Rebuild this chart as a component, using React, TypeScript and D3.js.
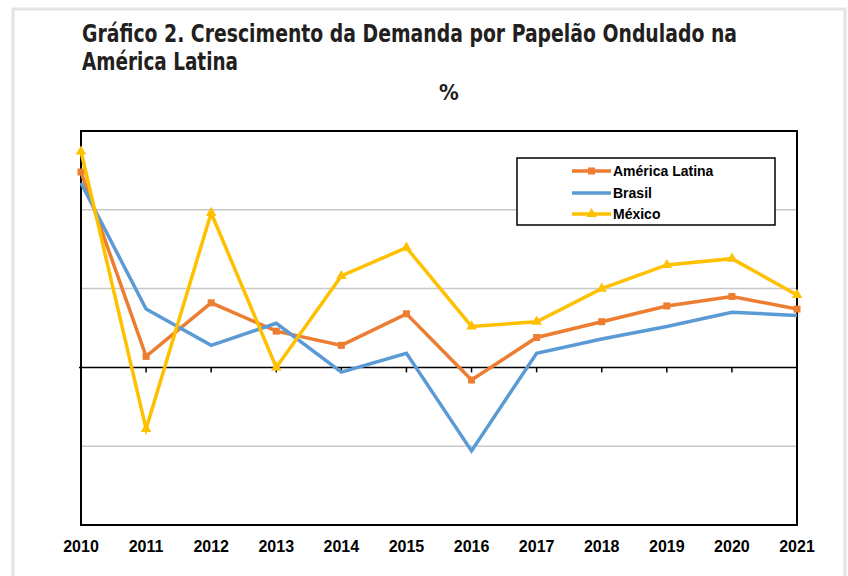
import React from 'react';
import * as d3 from 'd3';

const years = [2010, 2011, 2012, 2013, 2014, 2015, 2016, 2017, 2018, 2019, 2020, 2021];
const americaLatina = [12.4, 0.7, 4.1, 2.3, 1.4, 3.4, -0.8, 1.9, 2.9, 3.9, 4.5, 3.7];
const brasil = [11.7, 3.7, 1.4, 2.8, -0.3, 0.9, -5.3, 0.9, 1.8, 2.6, 3.5, 3.3];
const mexico = [13.7, -3.9, 9.8, 0.0, 5.8, 7.6, 2.6, 2.9, 5.0, 6.5, 6.9, 4.6];
const gridValues = [10, 5, -5];

const series = [
  { name: 'América Latina', values: americaLatina, color: '#ED7D31', marker: 'square' },
  { name: 'Brasil', values: brasil, color: '#5B9BD5', marker: 'none' },
  { name: 'México', values: mexico, color: '#FFC000', marker: 'triangle' },
];

const W = 848;
const H = 576;
const box = { left: 81, right: 797, top: 131, bottom: 525 };
const titleFont = "'DejaVu Sans Condensed', 'DejaVu Sans', sans-serif";

export default function App() {
  const x = d3.scaleLinear().domain([2010, 2021]).range([box.left, box.right]);
  const y = d3.scaleLinear().domain([-10, 15]).range([box.bottom, box.top]);

  const line = (vals: number[]) =>
    d3.line<number>()
      .x((_, i) => x(years[i]))
      .y(d => y(d))(vals) as string;

  const tri = d3.symbol().type(d3.symbolTriangle).size(48)() as string;

  const marker = (kind: string, color: string, cx: number, cy: number, key: string) => {
    if (kind === 'square')
      return <rect key={key} x={cx - 3.5} y={cy - 3.5} width={7} height={7} fill={color} />;
    if (kind === 'triangle')
      return <path key={key} d={tri} transform={`translate(${cx},${cy})`} fill={color} />;
    return null;
  };

  const legendRows = [171, 193, 214];

  return (
    <svg width={W} height={H} style={{ position: 'absolute', left: 0, top: 0, background: '#fff' }}
      fontFamily="'Liberation Sans', Arial, sans-serif">
      {/* outer frame */}
      <path d={`M13,${H} V9 H845 V${H}`} fill="none" stroke="#e4e4e4" strokeWidth={3} />

      <text x={82} y={42} fontFamily={titleFont} fontSize={24} fill="#231f20" fontWeight={700}
        textLength={655} lengthAdjust="spacingAndGlyphs">
        Gráfico 2. Crescimento da Demanda por Papelão Ondulado na
      </text>
      <text x={82} y={70} fontFamily={titleFont} fontSize={24} fill="#231f20" fontWeight={700}
        textLength={156} lengthAdjust="spacingAndGlyphs">América Latina</text>
      <text x={449} y={100} textAnchor="middle" fontFamily={titleFont}
        fontSize={22} fill="#231f20" fontWeight={700}>%</text>

      {/* gridlines */}
      {gridValues.map(v => (
        <line key={v} x1={box.left} x2={box.right} y1={y(v)} y2={y(v)} stroke="#c8c8c8" strokeWidth={1.5} />
      ))}

      {/* zero axis with ticks */}
      <line x1={box.left - 2} x2={box.right} y1={y(0)} y2={y(0)} stroke="#000" strokeWidth={1.5} />
      {years.map(yr => (
        <line key={yr} x1={x(yr)} x2={x(yr)} y1={y(0)} y2={y(0) + 5} stroke="#000" strokeWidth={1.5} />
      ))}

      {/* plot box */}
      <rect x={box.left} y={box.top} width={box.right - box.left} height={box.bottom - box.top}
        fill="none" stroke="#000" strokeWidth={2} />

      {/* series */}
      {series.map(s => (
        <g key={s.name}>
          <path d={line(s.values)} fill="none" stroke={s.color} strokeWidth={3.5} strokeLinejoin="miter" />
          {s.values.map((v, i) => marker(s.marker, s.color, x(years[i]), y(v), `${s.name}-${i}`))}
        </g>
      ))}

      {/* x labels */}
      {years.map(yr => (
        <text key={yr} x={x(yr)} y={552} textAnchor="middle" fontSize={16} fontWeight={700} fill="#000">{yr}</text>
      ))}

      {/* legend */}
      <rect x={517} y={158} width={258} height={67} fill="#fff" stroke="#000" strokeWidth={1.5} />
      {series.map((s, i) => (
        <g key={s.name}>
          <line x1={572} x2={611} y1={legendRows[i]} y2={legendRows[i]} stroke={s.color} strokeWidth={3.5} />
          {marker(s.marker, s.color, 591.5, legendRows[i], `leg-${i}`)}
          <text x={613} y={legendRows[i] + 5} fontSize={14} fontWeight={700} fill="#000">{s.name}</text>
        </g>
      ))}
    </svg>
  );
}
